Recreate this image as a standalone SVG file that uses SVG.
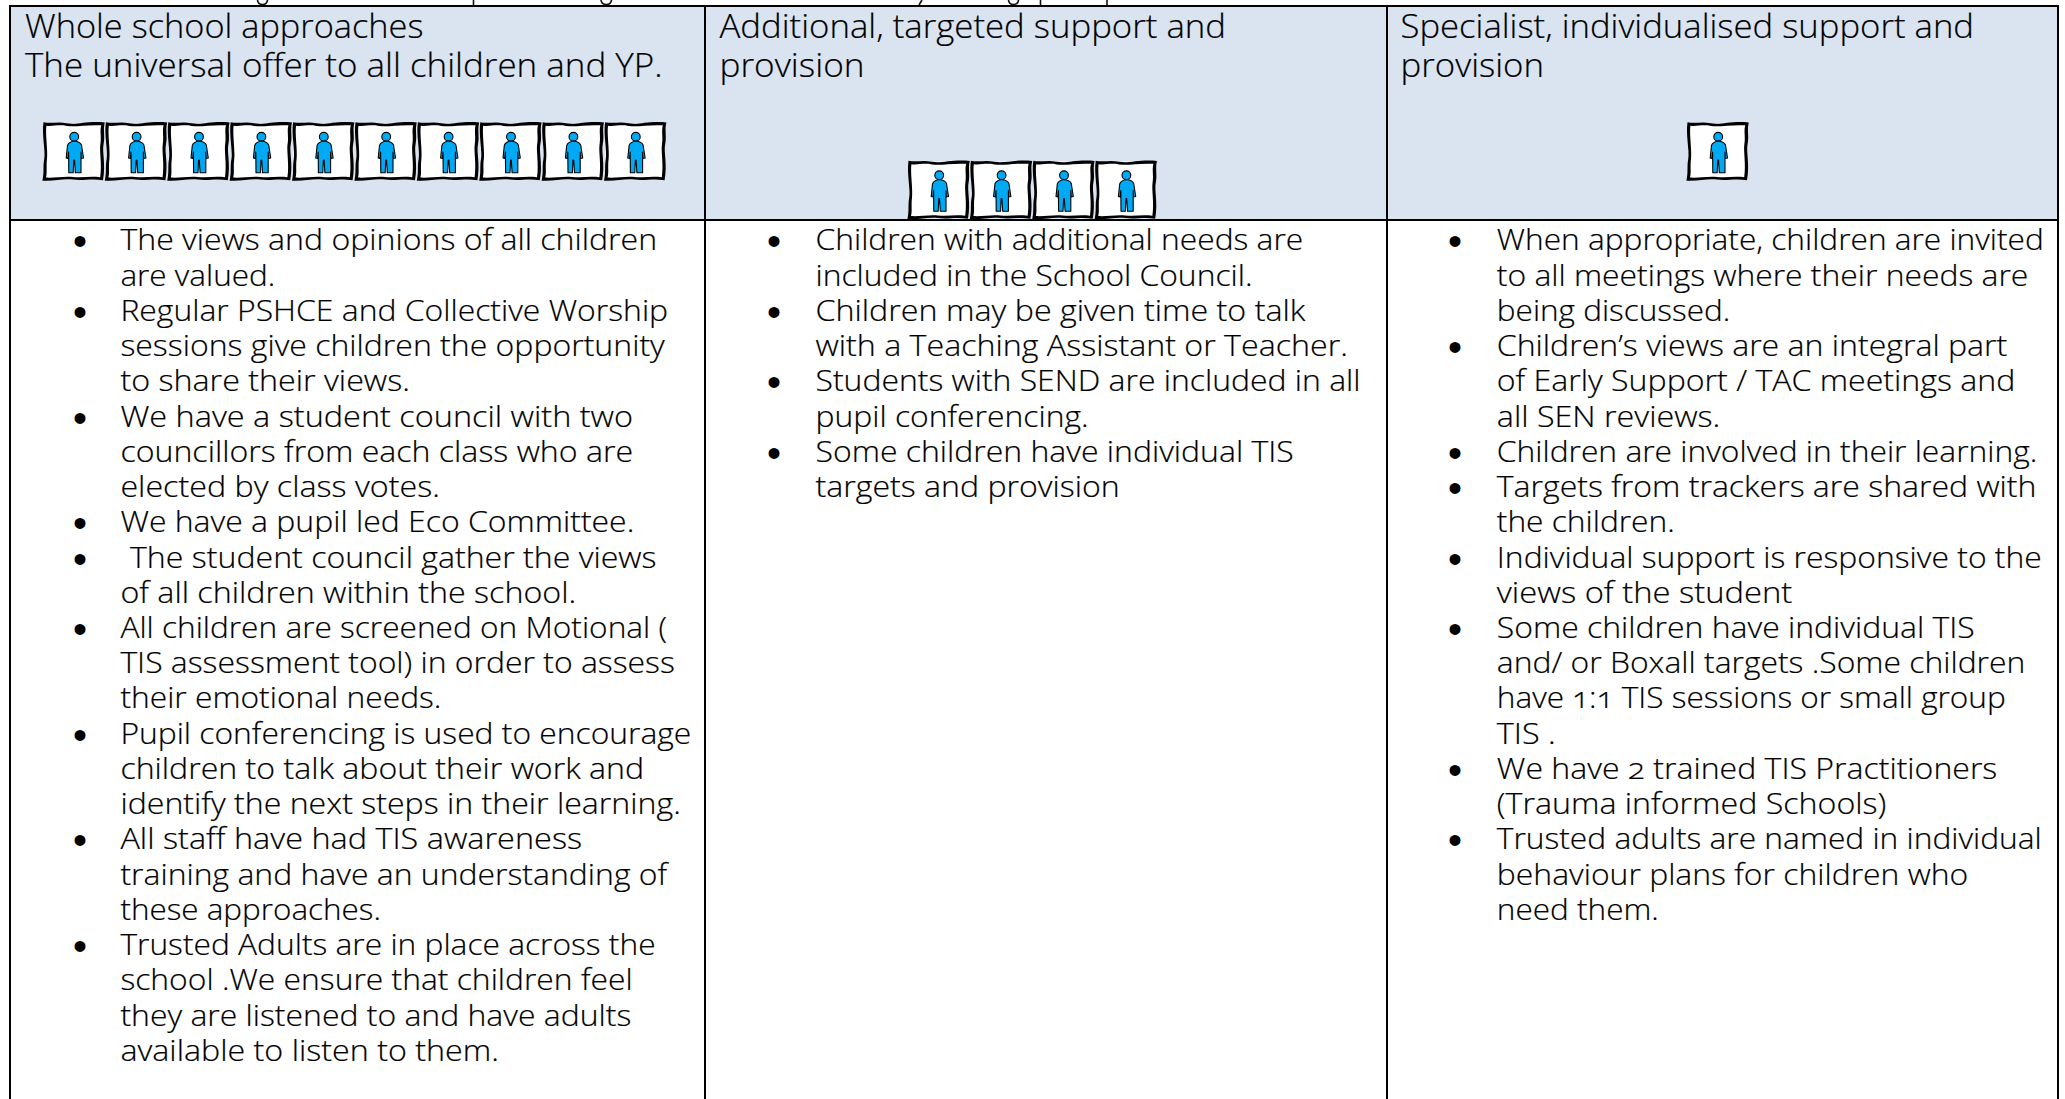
<svg xmlns="http://www.w3.org/2000/svg" width="2065" height="1099" viewBox="0 0 2065 1099">
<style>
text{font-family:"Open Sans","Noto Sans","Liberation Sans",sans-serif;font-weight:300;fill:#000;stroke:#000;stroke-width:.2px;font-variant-numeric:oldstyle-nums}
.h{font-size:32.5px}
.b{font-size:29.5px}
.d{font-family:"Liberation Sans",sans-serif;font-size:40px;font-weight:400;text-anchor:middle;stroke:none}
.head{fill:#dae4f1}
.rule{stroke:#000;stroke-width:2;fill:none}
.frag{stroke:#111;stroke-width:1.6;fill:none}
.frame{fill:#000;fill-rule:evenodd}
.paper{fill:#fff}
.fig{fill:#00a9f4;stroke:#000;stroke-width:1.1;stroke-linejoin:round}
</style>
<defs>
<g id="tile">
<path class="paper" d="M1,1H60V57H1Z"/>
<path class="frame" d="M.5,.2C8,2 14,-.7 24,1.2S44,-1.4 61.8,.4C59.8,8 62.3,14 60.6,22S63,42 60,58.2C48,56.4 40,58.9 30,57.6S12,59.4 -.6,58.7C1.4,50 -.2,45 1.2,37S-1.4,12 .5,.2ZM3.4,3.8C10,4.6 15,2.4 24,3.9S43,2.4 58.2,3.3C56.6,9 58.6,15 57.4,22S59.2,42 57.2,55.3C48,54 40,55.8 30,54.9S12,56.2 3,55.6C4.4,50 3,45 4,37S2.2,12 3.4,3.8Z"/>
<circle class="fig" cx="31.2" cy="14.8" r="4.4"/>
<path class="fig" d="M31.2,19C35,19.5 37.5,20.5 38.5,23L40.5,36L38.3,36.5L38,30L38,50.8L32.3,50.8L31.5,38L30.8,38L30.2,50.8L25.8,50.8L25.6,30L25,36.5L23.2,36L24.5,23.5C25.5,20.5 28,19.5 31.2,19Z"/>
</g>
</defs>
<rect width="2065" height="1099" fill="#fff"/>
<g id="header-fills">
<rect class="head" x="10" y="6" width="2048" height="214"/>
</g>
<g id="clipped-line-above">
<path class="frag" d="M257.5,0C258,6 267,6 267.5,0"/>
<path class="frag" d="M473.5,0V5"/>
<path class="frag" d="M601,0C601.5,6 611,6 611.5,0"/>
<path class="frag" d="M922,0L919,5"/>
<path class="frag" d="M1008.5,0C1009,6 1018,6 1018.5,0"/>
<path class="frag" d="M1040.5,0V5"/>
<path class="frag" d="M1107,0V5"/>
</g>
<g id="grid">
<path class="rule" d="M10,6H2058M10,220H2058M10,5V1099M705,6V1099M1387,6V1099M2058,5V1099"/>
</g>
<g id="col-whole-school">
<text class="h" x="25" y="38.3" textLength="398.5" lengthAdjust="spacingAndGlyphs">Whole school approaches</text>
<text class="h" x="25" y="76.7" textLength="637.5" lengthAdjust="spacingAndGlyphs">The universal offer to all children and YP.</text>
<g id="tiles-10">
<use href="#tile" x="43" y="122"/><use href="#tile" x="105.4" y="122"/><use href="#tile" x="167.8" y="122"/><use href="#tile" x="230.2" y="122"/><use href="#tile" x="292.6" y="122"/><use href="#tile" x="355" y="122"/><use href="#tile" x="417.4" y="122"/><use href="#tile" x="479.8" y="122"/><use href="#tile" x="542.2" y="122"/><use href="#tile" x="604.6" y="122"/>
</g>
<g id="list-1">
<text class="d" x="80" y="255.3">•</text><text class="d" x="80" y="325.8">•</text><text class="d" x="80" y="431.5">•</text><text class="d" x="80" y="537.2">•</text><text class="d" x="80" y="572.5">•</text><text class="d" x="80" y="642.9">•</text><text class="d" x="80" y="748.7">•</text><text class="d" x="80" y="854.4">•</text><text class="d" x="80" y="960.1">•</text>
<text class="b" x="120.4" y="250.3" textLength="536.7" lengthAdjust="spacingAndGlyphs">The views and opinions of all children</text>
<text class="b" x="120.4" y="285.5" textLength="155" lengthAdjust="spacingAndGlyphs">are valued.</text>
<text class="b" x="120.4" y="320.8" textLength="547.7" lengthAdjust="spacingAndGlyphs">Regular PSHCE and Collective Worship</text>
<text class="b" x="120.4" y="356" textLength="544.4" lengthAdjust="spacingAndGlyphs">sessions give children the opportunity</text>
<text class="b" x="120.4" y="391.3" textLength="289.5" lengthAdjust="spacingAndGlyphs">to share their views.</text>
<text class="b" x="120.4" y="426.5" textLength="512.7" lengthAdjust="spacingAndGlyphs">We have a student council with two</text>
<text class="b" x="120.4" y="461.7" textLength="512.7" lengthAdjust="spacingAndGlyphs">councillors from each class who are</text>
<text class="b" x="120.4" y="497" textLength="319.5" lengthAdjust="spacingAndGlyphs">elected by class votes.</text>
<text class="b" x="120.4" y="532.2" textLength="513.9" lengthAdjust="spacingAndGlyphs">We have a pupil led Eco Committee.</text>
<text class="b" x="130" y="567.5" textLength="526.5" lengthAdjust="spacingAndGlyphs">The student council gather the views</text>
<text class="b" x="120.4" y="602.7" textLength="455.8" lengthAdjust="spacingAndGlyphs">of all children within the school.</text>
<text class="b" x="120.4" y="637.9" textLength="546.7" lengthAdjust="spacingAndGlyphs">All children are screened on Motional (</text>
<text class="b" x="120.4" y="673.2" textLength="554.4" lengthAdjust="spacingAndGlyphs">TIS assessment tool) in order to assess</text>
<text class="b" x="120.4" y="708.4" textLength="321" lengthAdjust="spacingAndGlyphs">their emotional needs.</text>
<text class="b" x="120.4" y="743.7" textLength="570.9" lengthAdjust="spacingAndGlyphs">Pupil conferencing is used to encourage</text>
<text class="b" x="120.4" y="778.9" textLength="523.7" lengthAdjust="spacingAndGlyphs">children to talk about their work and</text>
<text class="b" x="120.4" y="814.1" textLength="560.4" lengthAdjust="spacingAndGlyphs">identify the next steps in their learning.</text>
<text class="b" x="120.4" y="849.4" textLength="461.7" lengthAdjust="spacingAndGlyphs">All staff have had TIS awareness</text>
<text class="b" x="120.4" y="884.6" textLength="546.7" lengthAdjust="spacingAndGlyphs">training and have an understanding of</text>
<text class="b" x="120.4" y="919.9" textLength="260.5" lengthAdjust="spacingAndGlyphs">these approaches.</text>
<text class="b" x="120.4" y="955.1" textLength="535.2" lengthAdjust="spacingAndGlyphs">Trusted Adults are in place across the</text>
<text class="b" x="120.4" y="990.3" textLength="512.2" lengthAdjust="spacingAndGlyphs">school .We ensure that children feel</text>
<text class="b" x="120.4" y="1025.6" textLength="510.9" lengthAdjust="spacingAndGlyphs">they are listened to and have adults</text>
<text class="b" x="120.4" y="1060.8" textLength="378.5" lengthAdjust="spacingAndGlyphs">available to listen to them.</text>
</g>
</g>
<g id="col-additional">
<text class="h" x="719.5" y="38.3" textLength="506.5" lengthAdjust="spacingAndGlyphs">Additional, targeted support and</text>
<text class="h" x="719.5" y="76.7" textLength="145" lengthAdjust="spacingAndGlyphs">provision</text>
<g id="tiles-4">
<use href="#tile" x="908" y="160.5"/><use href="#tile" x="970.4" y="160.5"/><use href="#tile" x="1032.8" y="160.5"/><use href="#tile" x="1095.2" y="160.5"/>
</g>
<g id="list-2">
<text class="d" x="774" y="255.3">•</text><text class="d" x="774" y="325.8">•</text><text class="d" x="774" y="396.3">•</text><text class="d" x="774" y="466.7">•</text>
<text class="b" x="815.5" y="250.3" textLength="487.7" lengthAdjust="spacingAndGlyphs">Children with additional needs are</text>
<text class="b" x="815.5" y="285.5" textLength="437" lengthAdjust="spacingAndGlyphs">included in the School Council.</text>
<text class="b" x="815.5" y="320.8" textLength="489.9" lengthAdjust="spacingAndGlyphs">Children may be given time to talk</text>
<text class="b" x="815.5" y="356" textLength="532.4" lengthAdjust="spacingAndGlyphs">with a Teaching Assistant or Teacher.</text>
<text class="b" x="815.5" y="391.3" textLength="545" lengthAdjust="spacingAndGlyphs">Students with SEND are included in all</text>
<text class="b" x="815.5" y="426.5" textLength="273.1" lengthAdjust="spacingAndGlyphs">pupil conferencing.</text>
<text class="b" x="815.5" y="461.7" textLength="478.2" lengthAdjust="spacingAndGlyphs">Some children have individual TIS</text>
<text class="b" x="815.5" y="497" textLength="304.3" lengthAdjust="spacingAndGlyphs">targets and provision</text>
</g>
</g>
<g id="col-specialist">
<text class="h" x="1400.5" y="38.3" textLength="573.5" lengthAdjust="spacingAndGlyphs">Specialist, individualised support and</text>
<text class="h" x="1400.5" y="76.7" textLength="143.5" lengthAdjust="spacingAndGlyphs">provision</text>
<g id="tiles-1">
<use href="#tile" x="1687" y="122"/>
</g>
<g id="list-3">
<text class="d" x="1455" y="255.3">•</text><text class="d" x="1455" y="361">•</text><text class="d" x="1455" y="466.7">•</text><text class="d" x="1455" y="502">•</text><text class="d" x="1455" y="572.5">•</text><text class="d" x="1455" y="642.9">•</text><text class="d" x="1455" y="783.9">•</text><text class="d" x="1455" y="854.4">•</text>
<text class="b" x="1496.8" y="250.3" textLength="547" lengthAdjust="spacingAndGlyphs">When appropriate, children are invited</text>
<text class="b" x="1496.8" y="285.5" textLength="531.5" lengthAdjust="spacingAndGlyphs">to all meetings where their needs are</text>
<text class="b" x="1496.8" y="320.8" textLength="233.5" lengthAdjust="spacingAndGlyphs">being discussed.</text>
<text class="b" x="1496.8" y="356" textLength="510.5" lengthAdjust="spacingAndGlyphs">Children’s views are an integral part</text>
<text class="b" x="1496.8" y="391.3" textLength="518.5" lengthAdjust="spacingAndGlyphs">of Early Support / TAC meetings and</text>
<text class="b" x="1496.8" y="426.5" textLength="223.5" lengthAdjust="spacingAndGlyphs">all SEN reviews.</text>
<text class="b" x="1496.8" y="461.7" textLength="540.5" lengthAdjust="spacingAndGlyphs">Children are involved in their learning.</text>
<text class="b" x="1496.8" y="497" textLength="539.7" lengthAdjust="spacingAndGlyphs">Targets from trackers are shared with</text>
<text class="b" x="1496.8" y="532.2" textLength="178" lengthAdjust="spacingAndGlyphs">the children.</text>
<text class="b" x="1496.8" y="567.5" textLength="545" lengthAdjust="spacingAndGlyphs">Individual support is responsive to the</text>
<text class="b" x="1496.8" y="602.7" textLength="295.5" lengthAdjust="spacingAndGlyphs">views of the student</text>
<text class="b" x="1496.8" y="637.9" textLength="478" lengthAdjust="spacingAndGlyphs">Some children have individual TIS</text>
<text class="b" x="1496.8" y="673.2" textLength="528.5" lengthAdjust="spacingAndGlyphs">and/ or Boxall targets .Some children</text>
<text class="b" x="1496.8" y="708.4" textLength="509" lengthAdjust="spacingAndGlyphs">have 1:1 TIS sessions or small group</text>
<text class="b" x="1496.8" y="743.7" textLength="59" lengthAdjust="spacingAndGlyphs">TIS .</text>
<text class="b" x="1496.8" y="778.9" textLength="500.5" lengthAdjust="spacingAndGlyphs">We have 2 trained TIS Practitioners</text>
<text class="b" x="1496.8" y="814.1" textLength="389.5" lengthAdjust="spacingAndGlyphs">(Trauma informed Schools)</text>
<text class="b" x="1496.8" y="849.4" textLength="545" lengthAdjust="spacingAndGlyphs">Trusted adults are named in individual</text>
<text class="b" x="1496.8" y="884.6" textLength="471.5" lengthAdjust="spacingAndGlyphs">behaviour plans for children who</text>
<text class="b" x="1496.8" y="919.9" textLength="162" lengthAdjust="spacingAndGlyphs">need them.</text>
</g>
</g>
</svg>
